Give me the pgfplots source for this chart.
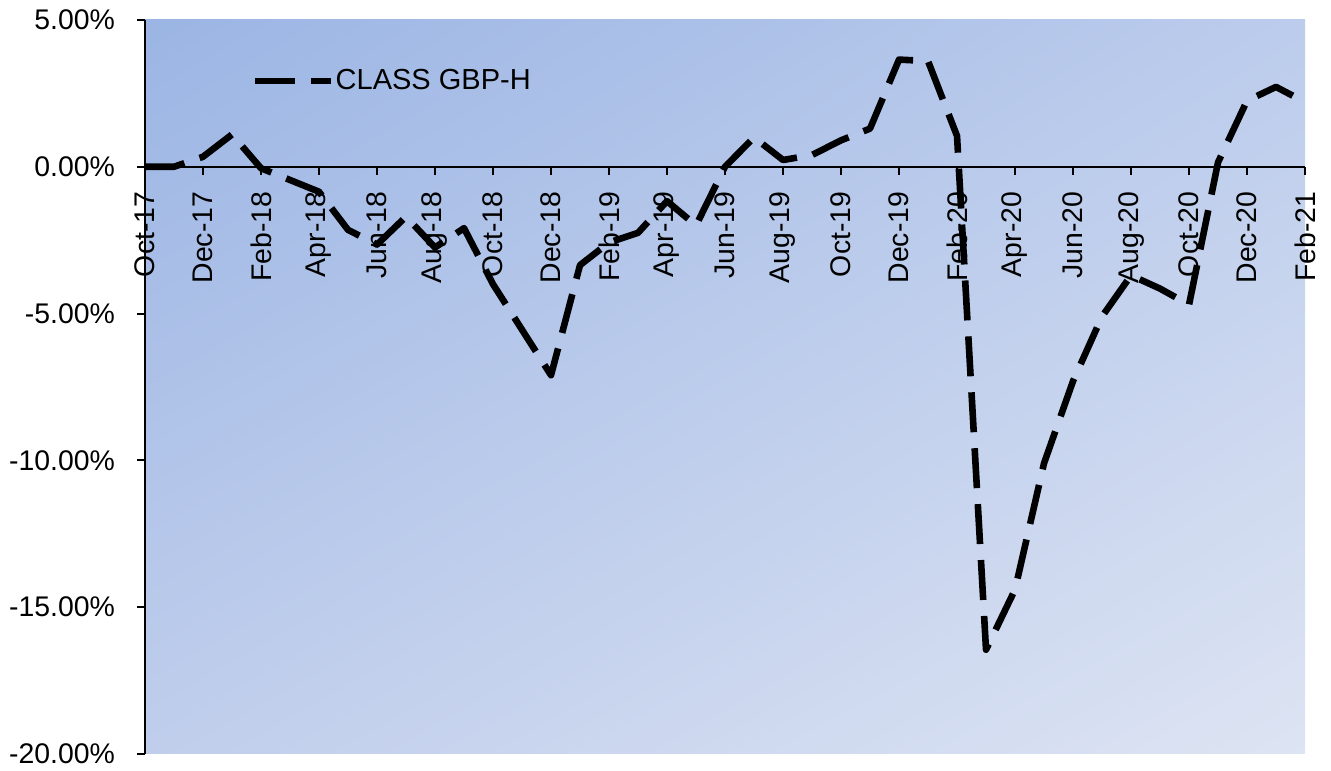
\documentclass[border=0pt]{standalone}
\usepackage{pgfplots}
\pgfplotsset{compat=1.18}
\usetikzlibrary{shadings}
\usepackage{fontspec}
\setmainfont{Liberation Sans}
\definecolor{bgUL}{RGB}{155,181,228}
\definecolor{bgUR}{RGB}{188,204,236}
\definecolor{bgLL}{RGB}{192,206,236}
\definecolor{bgLR}{RGB}{221,228,243}
\pgfplotstableread{
x y
0 0.00
1 0.00
2 0.34
3 1.10
4 -0.05
5 -0.45
6 -0.85
7 -2.15
8 -2.65
9 -1.70
10 -2.75
11 -2.09
12 -4.00
13 -5.55
14 -7.10
15 -3.35
16 -2.58
17 -2.25
18 -1.17
19 -2.00
20 0.00
21 1.00
22 0.23
23 0.40
24 0.90
25 1.30
26 3.65
27 3.60
28 1.05
29 -16.45
30 -14.40
31 -10.10
32 -7.30
33 -5.10
34 -3.70
35 -4.15
36 -4.70
37 0.15
38 2.25
39 2.72
40 2.20
}\gbph
\begin{document}
\begin{tikzpicture}
\begin{axis}[
  scale only axis, width=580pt, height=367pt,
  xmin=0, xmax=40, ymin=-20, ymax=5,
  axis x line*=middle, axis y line*=left,
  hide obscured x ticks=false,
  axis line style={black, line width=1pt},
  xtick={0,2,...,40},
  xticklabels={Oct-17,Dec-17,Feb-18,Apr-18,Jun-18,Aug-18,Oct-18,Dec-18,Feb-19,Apr-19,Jun-19,Aug-19,Oct-19,Dec-19,Feb-20,Apr-20,Jun-20,Aug-20,Oct-20,Dec-20,Feb-21},
  xticklabel style={yshift=-5pt, rotate=90, anchor=east, font=\fontsize{14.2}{16}\selectfont},
  ytick={-20,-15,...,5},
  yticklabels={-20.00\%,-15.00\%,-10.00\%,-5.00\%,0.00\%,5.00\%},
  yticklabel shift=7.5pt,
  yticklabel style={font=\fontsize{14.2}{16}\selectfont},
  tick style={black, line width=1pt},
  major tick length=4pt,
  tick align=outside,
  axis background/.style={shade, upper left=bgUL, upper right=bgUR, lower left=bgLL, lower right=bgLR},
  clip=false,
  legend style={at={(0.092,0.917)}, anchor=west, draw=none, fill=none, inner sep=0pt,
    font=\fontsize{14.5}{16}\selectfont, nodes={inner sep=0.5pt}},
  legend image code/.code={\draw[#1] (0pt,0pt) -- (38pt,0pt);},
]
\path (rel axis cs:-0.125,-0.02316) rectangle (rel axis cs:1.0224,1.0272);
\addplot[black, line width=3.3pt, dash pattern=on 20pt off 8pt, line join=round] table[x=x,y=y] {\gbph};
\addlegendentry{CLASS GBP-H}
\end{axis}
\end{tikzpicture}
\end{document}
